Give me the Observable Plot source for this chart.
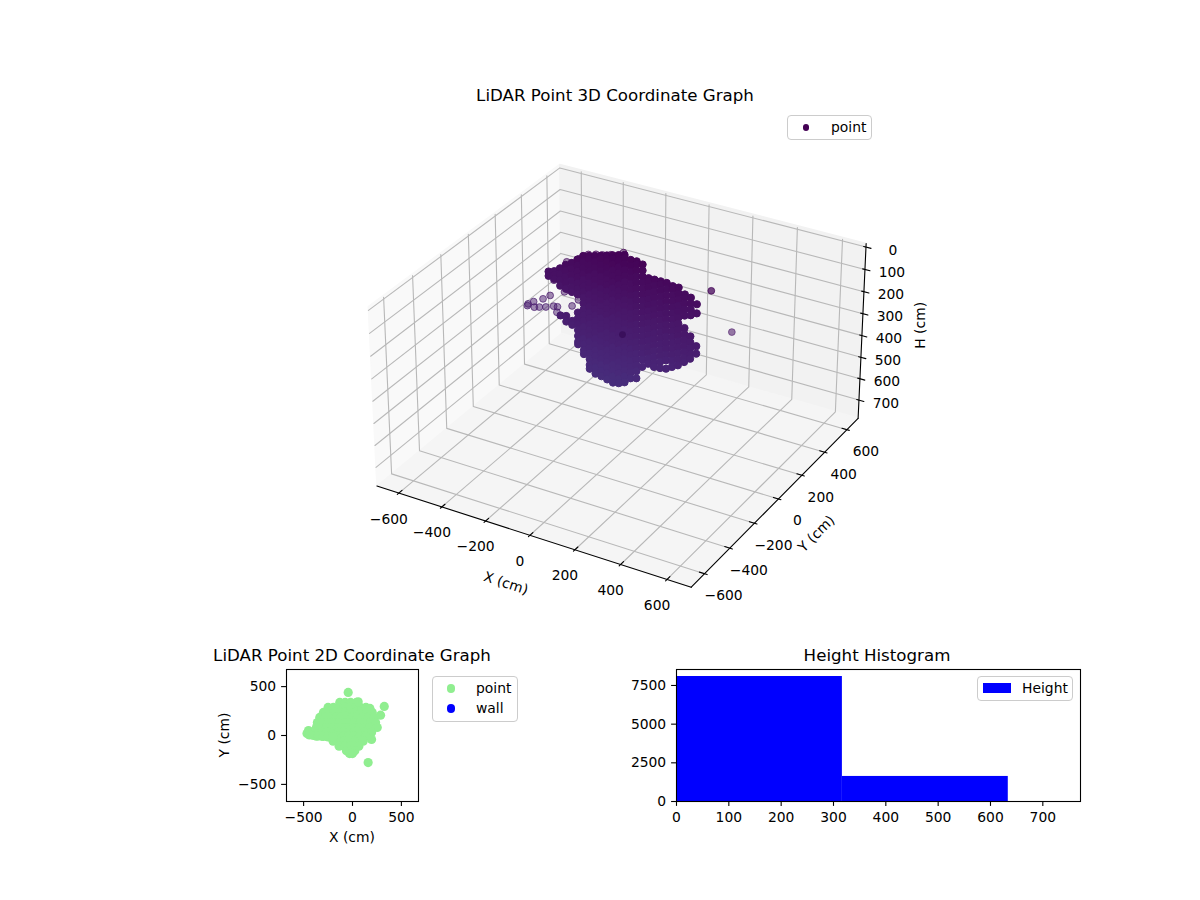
<!DOCTYPE html>
<html><head><meta charset="utf-8">
<script src="https://cdn.jsdelivr.net/npm/d3@7"></script>
<script src="https://cdn.jsdelivr.net/npm/@observablehq/plot@0.6"></script>
<style>
html,body{margin:0;padding:0;background:#fff}
#page{position:relative;width:1200px;height:900px;overflow:hidden;font-family:"DejaVu Sans",sans-serif;color:#000}
#page svg{position:absolute;background:transparent;overflow:visible}
.t{position:absolute;white-space:nowrap;font-size:13.89px;line-height:1}
.title{font-size:16.67px;transform:translateX(-50%)}
.box{position:absolute;border:1px solid #ccc;border-radius:4px;background:#fff;box-sizing:border-box}
.dot{position:absolute;border-radius:50%}
</style></head><body><div id="page"></div>
<script>
// ---------- axis limits and ticks ----------
const xyLimit = 675;
const heightLimits = [0, 770];
const xTicks3d = [-600,-400,-200,0,200,400,600];
const yTicks3d = [-600,-400,-200,0,200,400,600];
const hTicks3d = [0,100,200,300,400,500,600,700];
const ticks2d = [-500,0,500];
const histXTicks = [0,100,200,300,400,500,600,700];
const histYTicks = [0,2500,5000,7500];

// ---------- 3D point cloud, columns of X with H lists ----------
const cloudY = 230;
const cloudX = [-474,-447,-420,-393,-365,-338,-311,-284,-257,-229,-202,-175,-148,-121,-93,-66,-39,-12,15,43,70,97,124,152,179,206];
const cloudH = [
[205,225],
[196,214,232],
[176,203,230,255,392],
[153,180,207,234,262,387,413],
[137,164,191,218,245,269,402,420],
[114,141,168,195,222,249,273,356,383,410,437,464,491,503],
[91,118,145,172,199,226,253,280,307,334,361,388,415,442,469,496,523,541],
[84,98,125,152,179,206,233,260,287,314,341,368,395,422,449,476,503,530,557,584,602],
[76,103,130,157,184,211,238,265,292,319,346,373,400,427,454,481,508,535,562,589,617],
[68,82,109,136,163,190,217,244,271,298,325,352,379,406,433,460,487,514,541,568,595,621],
[60,87,114,141,168,195,222,249,276,303,330,357,384,411,438,465,492,519,546,573,600,628],
[52,66,93,120,147,174,201,228,255,282,309,336,363,390,417,444,471,498,525,552,579,606,635],
[44,71,98,125,152,179,206,233,260,287,314,341,368,395,422,449,476,503,530,557,584,611,630],
[36,50,77,104,131,158,185,212,239,266,293,320,347,374,401,428,455,482,509,536,563,590,618],
[51,78,105,132,159,186,213,240,267,294,321,348,375,402,429,456,483,510,537,564,591],
[50,64,91,118,145,172,199,226,253,280,307,334,361,388,415,442,469,496,523,550,583],
[57,84,111,138,165,192,219,246,273,300,327,354,381,408,435,462,489,522],
[111,125,152,179,206,233,260,287,314,341,368,395,422,449,476,500],
[110,137,164,191,218,245,272,299,326,353,380,407,434,461,488,507],
[110,124,151,178,205,232,259,286,313,340,367,394,421,448,475,504],
[110,137,164,191,218,245,272,299,326,353,380,407,434,461,499],
[117,131,158,185,212,239,266,293,320,347,374,401,428,455,483],
[116,143,170,197,224,251,278,305,332,359,386,413,440,468],
[139,153,180,207,234,290,317,344,371,398,425,445],
[146,173,200,225,320,347,374,401,422],
[168,209,357,391]
];
// sparse translucent points on the rim of the cloud
const rimX = [-577,-574,-547,-544,-520,-502,-489,-468,-452,-437,-434,-365,-400,-380,-335,-471,-449,-388,-365,-328,-287,-252,-222,-184,-126];
const rimH = [390,381,363,388,381,338,372,313,358,382,356,333,278,264,297,215,238,138,139,108,78,68,63,52,27];
// isolated points
const loneX = [269,363];
const loneY = [230,230];
const loneH = [91,249];
const loneAlpha = [0.75,0.55];
const nearX = [158], nearY = [-270], nearH = [74];

// ---------- 2D scatter ----------
const scatterRows = [338,287,236,185,133,82,31,-7,-58,-109,-157,-185];
const scatterRowX = [
 [-130,-75,-20,41],
 [-250,-195,-140,-85,-30,25,80,137],
 [-297,-242,-187,-132,-77,-22,33,88,143,202],
 [-335,-280,-225,-170,-115,-60,-5,50,105,160,219],
 [-359,-304,-249,-194,-139,-84,-29,26,81,136,191,236],
 [-369,-314,-259,-204,-149,-94,-39,16,71,126,181,253],
 [-369,-314,-259,-204,-149,-94,-39,16,71,126,195],
 [-369,-314,-259,-204,-149,-94,-39,16,71,133],
 [-198,-143,-88,-33,22,77,109],
 [-137,-82,-27,28,65],
 [-62,-20,24],
 [-30,0]
];
const scatterExtraX = [-465,-450,-440,-400,-350,-300,-250,-200,-44,325,287,160,195,58,178];
const scatterExtraY = [20,50,5,0,-5,-10,-15,-15,441,297,208,-277,-41,345,277];

// ---------- histogram ----------
const binEdges = [0,317,634];
const binCounts = [8080,1620];

// ---------- projection of the 3D view (matplotlib default elev 30, azim -60) ----------
const view = {cx:621.5, cy:364, s:3000, bx:1.146, bz:0.654, dist:10};
function project(X,Y,H){
  const nx=(X+xyLimit)/(2*xyLimit)*view.bx, ny=(Y+xyLimit)/(2*xyLimit)*view.bx;
  const nz=(heightLimits[1]-H)/(heightLimits[1]-heightLimits[0])*view.bz;
  const dx=nx-view.bx/2, dy=ny-view.bx/2, dz=nz-view.bz/2;
  const c=Math.cos(Math.PI/6), s=0.5, ca=0.5, sa=-Math.sqrt(3)/2;
  const w=[c*ca,c*sa,s], u=[-sa,ca,0], v=[-s*ca,-s*sa,c];
  const xe=u[0]*dx+u[1]*dy, ye=v[0]*dx+v[1]*dy+v[2]*dz, ze=w[0]*dx+w[1]*dy+w[2]*dz-view.dist;
  return [view.cx+view.s*xe/(-ze), view.cy-view.s*ye/(-ze)];
}
const pad = 2*xyLimit/48, hPad = (heightLimits[1]-heightLimits[0])/48;
const P = xyLimit+pad, Ht = heightLimits[0]-hPad, Hb = heightLimits[1]+hPad;
const sx = d=>project(d[0],d[1],d[2])[0], sy = d=>project(d[0],d[1],d[2])[1];

const panes = [
 {fill:"#f9f9f9", pts:[[-P,-P,Hb],[-P,P,Hb],[-P,P,Ht],[-P,-P,Ht]]},
 {fill:"#f2f2f2", pts:[[-P,P,Hb],[P,P,Hb],[P,P,Ht],[-P,P,Ht]]},
 {fill:"#f5f5f5", pts:[[-P,-P,Hb],[P,-P,Hb],[P,P,Hb],[-P,P,Hb]]}
];
const gridPaths = [
 ...xTicks3d.map(x=>[[x,-P,Hb],[x,P,Hb],[x,P,Ht+8]]),
 ...yTicks3d.map(y=>[[P,y,Hb],[-P,y,Hb],[-P,y,Ht+8]]),
 ...hTicks3d.map(h=>[[-P,-P,h],[-P,P,h],[P,P,h]])
];
const axisPaths = [
 [[-P,-P,Hb],[P,-P,Hb]], [[P,-P,Hb],[P,P,Hb]], [[P,P,Hb],[P,P,Ht]]
];
const tickPaths = [
 ...xTicks3d.map(x=>[[x,-P-11,Hb],[x,-P+22,Hb]]),
 ...yTicks3d.map(y=>[[P-22,y,Hb],[P+11,y,Hb]]),
 ...hTicks3d.map(h=>[[P-10,P,h],[P+22,P,h]])
];
const minus = n=>String(n).replace("-","\u2212");
const lineMark = (paths,opts)=>paths.map(p=>Plot.line(p,{x:sx,y:sy,...opts}));
const cloud = cloudX.flatMap((x,i)=>cloudH[i].map(h=>[x,cloudY,h]));
const rim = rimX.map((x,i)=>[x,cloudY,rimH[i]]);
const lone = loneX.map((x,i)=>[x,loneY[i],loneH[i],loneAlpha[i]]);
const near = nearX.map((x,i)=>[x,nearY[i],nearH[i]]);
const H3 = d=>d[2];

const page = document.getElementById("page");
const font = {fontFamily:"DejaVu Sans",fontSize:"13.89px",background:"transparent"};

const chart3d = Plot.plot({
 width:1200,height:900,margin:0,style:font,
 x:{axis:null,domain:[0,1200],range:[0,1200]},
 y:{axis:null,domain:[0,900],range:[0,900]},
 color:{domain:[0,5000],scheme:"viridis"},
 marks:[
  ...panes.map(p=>Plot.line(p.pts.concat([p.pts[0]]),{x:sx,y:sy,fill:p.fill,stroke:p.fill})),
  ...lineMark(gridPaths,{stroke:"#b8b8b8",strokeWidth:1.1}),
  ...lineMark(axisPaths,{stroke:"#000",strokeWidth:1.1}),
  ...lineMark(tickPaths,{stroke:"#000",strokeWidth:1.1}),
  Plot.text(xTicks3d,{x:d=>project(d,-P,Hb)[0],y:d=>project(d,-P,Hb)[1],text:minus,dx:-10,dy:26,fill:"#000"}),
  Plot.text(yTicks3d,{x:d=>project(P,d,Hb)[0],y:d=>project(P,d,Hb)[1],text:minus,dx:19,dy:22,fill:"#000"}),
  Plot.text(hTicks3d,{x:d=>project(P,P,d)[0],y:d=>project(P,P,d)[1],text:minus,dx:27,dy:3,fill:"#000"}),
  Plot.text(["X (cm)"],{x:()=>project(0,-P,Hb)[0],y:()=>project(0,-P,Hb)[1],text:d=>d,dx:-24,dy:48,rotate:18,fill:"#000"}),
  Plot.text(["Y (cm)"],{x:()=>project(P,0,Hb)[0],y:()=>project(P,0,Hb)[1],text:d=>d,dx:38,dy:35,rotate:-45,fill:"#000"}),
  Plot.text(["H (cm)"],{x:()=>project(P,P,385)[0],y:()=>project(P,P,385)[1],text:d=>d,dx:58,dy:-7,rotate:-90,fill:"#000"}),
  Plot.dot(lone,{x:sx,y:sy,r:3.4,fill:H3,stroke:H3,fillOpacity:d=>d[3],strokeOpacity:d=>d[3],strokeWidth:1}),
  Plot.dot(rim,{x:sx,y:sy,r:3.4,fill:H3,stroke:H3,fillOpacity:0.5,strokeOpacity:0.7,strokeWidth:1}),
  Plot.dot(cloud,{x:sx,y:sy,r:3.6,fill:H3,stroke:H3,strokeWidth:1}),
  Plot.dot(near,{x:sx,y:sy,r:3.4,fill:"#3a0f5c"})
 ]});
chart3d.style.left="0";chart3d.style.top="0";
page.append(chart3d);

function panel(x0,y0,x1,y1,opts){
 const el = Plot.plot({width:x1-x0+120,height:y1-y0+60,marginLeft:60,marginRight:60,marginTop:10,marginBottom:50,style:font,...opts});
 el.style.left=(x0-60)+"px";el.style.top=(y0-10)+"px";
 page.append(el);
}
const axisOpts = {tickSize:4.9,tickPadding:5.4,fontSize:13.89,label:null,stroke:"#000",strokeWidth:1.1,tickFormat:minus};

const scatter = scatterRows.flatMap((y,i)=>scatterRowX[i].map(x=>[x,y])).concat(scatterExtraX.map((x,i)=>[x,scatterExtraY[i]]));
panel(286,669,418,801,{
 x:{domain:[-xyLimit,xyLimit]},y:{domain:[-xyLimit,xyLimit]},
 marks:[
  Plot.dot(scatter,{x:d=>d[0],y:d=>d[1],r:4.6,fill:"#90ee90"}),
  Plot.frame({stroke:"#000",strokeWidth:1.1}),
  Plot.axisX(ticks2d,{...axisOpts}),
  Plot.axisY(ticks2d,{...axisOpts})
 ]});
panel(676,669,1080,801,{
 x:{domain:[0,772]},y:{domain:[0,8533]},
 marks:[
  Plot.rectY(binCounts,{x1:(d,i)=>binEdges[i],x2:(d,i)=>binEdges[i+1],y:d=>d,fill:"#0000ff",inset:0}),
  Plot.frame({stroke:"#000",strokeWidth:1.1}),
  Plot.axisX(histXTicks,{...axisOpts}),
  Plot.axisY(histYTicks,{...axisOpts})
 ]});

function text(s,x,y,cls,extra){
 const d=document.createElement("div");d.className="t "+(cls||"");d.textContent=s;
 d.style.left=x+"px";d.style.top=y+"px";if(extra)Object.assign(d.style,extra);page.append(d);return d;
}
function box(x,y,w,h){const d=document.createElement("div");d.className="box";Object.assign(d.style,{left:x+"px",top:y+"px",width:w+"px",height:h+"px"});page.append(d);}
function dot(x,y,r,c){const d=document.createElement("div");d.className="dot";Object.assign(d.style,{left:(x-r)+"px",top:(y-r)+"px",width:2*r+"px",height:2*r+"px",background:c});page.append(d);}

text("LiDAR Point 3D Coordinate Graph",615,88,"title");
text("LiDAR Point 2D Coordinate Graph",352,648,"title");
text("Height Histogram",877,648,"title");
text("X (cm)",329,831);
text("Y (cm)",225,735,"",{transform:"translate(-50%,-50%) rotate(-90deg)"});

box(787,115,85,25);dot(806,127.5,3.3,"#440154");text("point",831,121);
box(431.5,676,86,46);dot(451,688.5,4.4,"#90ee90");dot(451,708.5,4.4,"#0000ff");text("point",476,682);text("wall",476,702);
box(977,676,96,25);
const sw=document.createElement("div");Object.assign(sw.style,{position:"absolute",left:"983px",top:"683px",width:"28px",height:"10px",background:"#0000ff"});page.append(sw);
text("Height",1022,682);
</script></body></html>
